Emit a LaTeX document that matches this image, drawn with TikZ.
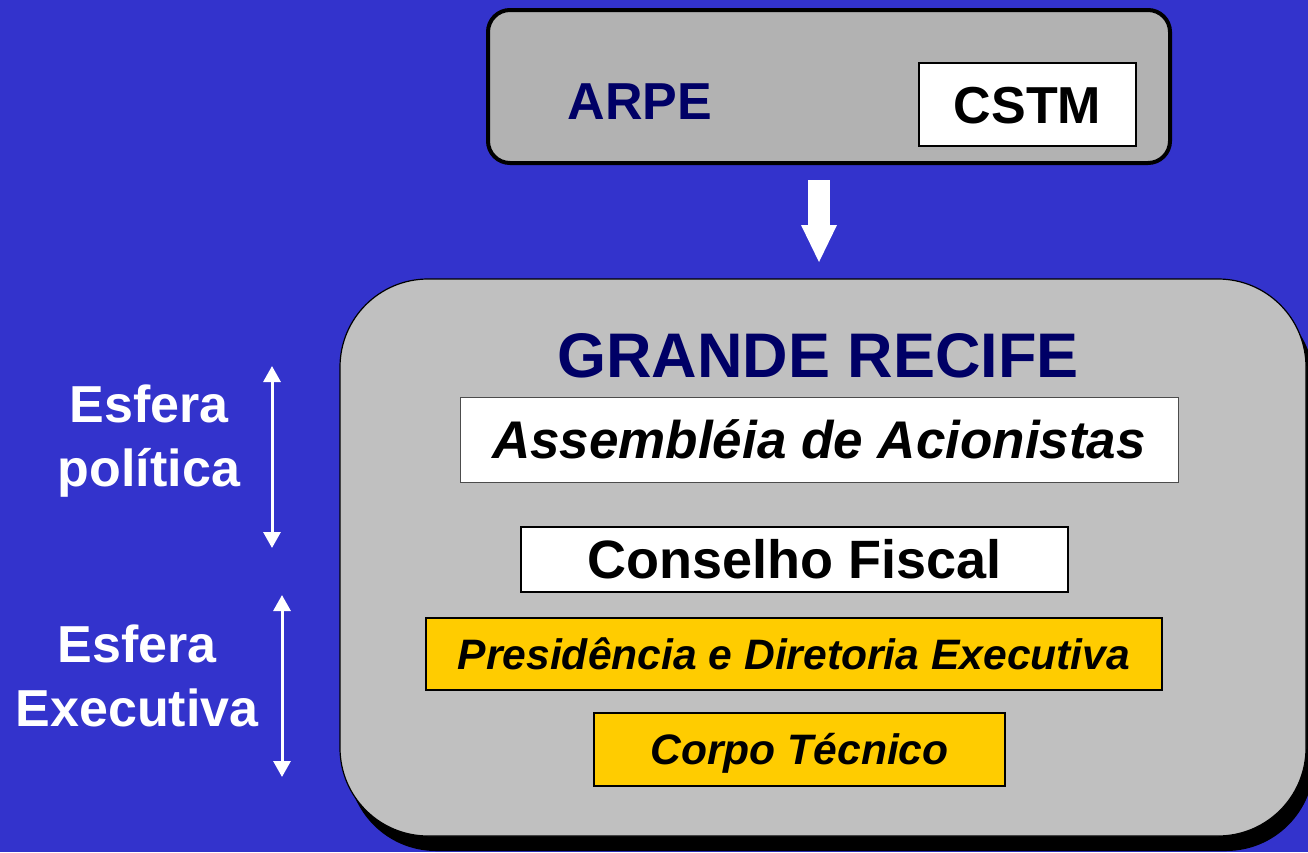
\documentclass[tikz,border=0pt]{standalone}
\usepackage{fontspec}
\setmainfont{Liberation Sans}
\usetikzlibrary{arrows.meta,shadows,positioning}
\definecolor{fundo}{RGB}{51,51,204}
\definecolor{marinho}{RGB}{0,0,102}
\definecolor{cinzaA}{RGB}{178,178,178}
\definecolor{cinzaB}{RGB}{192,192,192}
\definecolor{amarelo}{RGB}{255,204,0}

\begin{document}
\begin{tikzpicture}[x=1pt, y=-1pt,
  letra/.style={inner sep=0pt, font=\fontsize{#1}{#1}\selectfont\bfseries,
    text height=0.72*#1pt, text depth=0pt},
  caixa/.style={draw, line width=2pt, rectangle, inner sep=0pt},
  branca/.style={caixa, fill=white},
  dourada/.style={caixa, fill=amarelo},
  esfera/.style={inner sep=0pt, text=white, align=center, anchor=north,
    font=\fontsize{52}{64}\selectfont\bfseries},
  dupla/.style={white, line width=3pt,
    {Triangle[width=17pt,length=16pt]}-{Triangle[width=17pt,length=16pt]}}]
\useasboundingbox (0,0) rectangle (1308,852);
\fill [fundo] (0,0) rectangle (1308,852);

% ARPE
\node [draw, line width=4pt, fill=cinzaA, rounded corners=22pt, inner sep=0pt,
  minimum width=682pt, minimum height=153pt] (arpeBox) at (829,86.5) {};
\node [letra=52, text=marinho] (arpe) at (640,101) {ARPE};
\node [branca, letra=52, minimum width=217pt, minimum height=83pt] (cstm)
  at (1027.5,104.5) {CSTM};

% seta grande
\coordinate (setaIni) at (819,180);
\coordinate (setaFim) at (819,262);
\draw [white, line width=22pt,
  -{Triangle[width=36pt,length=37pt,line width=0pt]}] (setaIni) -- (setaFim);

% GRANDE RECIFE
\node [draw, line width=1.2pt, fill=cinzaB, rounded corners=88pt, inner sep=0pt,
  minimum width=966pt, minimum height=557pt,
  drop shadow={shadow xshift=8pt, shadow yshift=-15pt, fill=black, opacity=1}]
  (recife) at (823,557.5) {};
\node [letra=63, text=marinho] (titulo) at (818,354.5) {GRANDE RECIFE};
\node [branca, line width=1pt, draw=black!70, letra=53, minimum width=718pt,
  minimum height=85pt] (assembleia) at (819,439.5)
  {\itshape Assembléia de Acionistas};
\node [branca, letra=54, minimum width=547pt, minimum height=65pt] (conselho)
  at (794.5,559.5) {Conselho Fiscal};
\node [dourada, letra=42.6, minimum width=736pt, minimum height=72pt] (presid)
  at (794,654) {\itshape Presidência e Diretoria Executiva};
\node [dourada, letra=42.6, minimum width=411pt, minimum height=73pt] (corpo)
  at (799.5,749.5) {\itshape Corpo Técnico};

% esferas
\node [esfera] (esfPol) at (149,385) {Esfera\\política};
\node [esfera] (esfExe) at (137,625) {Esfera\\Executiva};
\coordinate (polTopo) at (272,366);
\coordinate (polBase) at (272,548);
\coordinate (exeTopo) at (282,595);
\coordinate (exeBase) at (282,777);
\draw [dupla] (polTopo) -- (polBase);
\draw [dupla] (exeTopo) -- (exeBase);

\end{tikzpicture}
\end{document}
